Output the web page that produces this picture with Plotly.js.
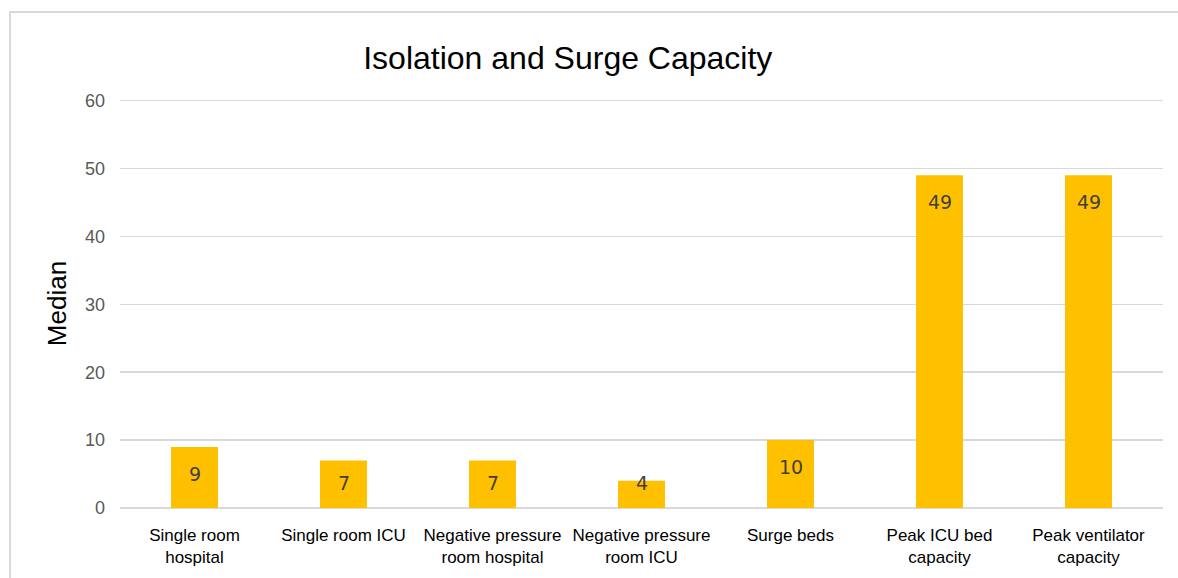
<!DOCTYPE html>
<html>
<head>
<meta charset="utf-8">
<script src="https://cdn.plot.ly/plotly-3.0.1.min.js"></script>
<style>
html,body{margin:0;padding:0;background:#fff;overflow:hidden;}
#frame{position:absolute;left:9px;top:11px;width:1200px;height:600px;border:2px solid #d9d9d9;box-sizing:border-box;}
#chart{position:absolute;left:0;top:0;width:1178px;height:578px;}
</style>
</head>
<body>
<div id="frame"></div>
<div id="chart"></div>
<script>
const categories = ["Single room<br>hospital", "Single room ICU", "Negative pressure<br>room hospital", "Negative pressure<br>room ICU", "Surge beds", "Peak ICU bed<br>capacity", "Peak ventilator<br>capacity"];
const medians = [9, 7, 7, 4, 10, 49, 49];
const yTicks = [0, 10, 20, 30, 40, 50, 60];

const plotTop = 99, plotBottom = 508, yMax = 60.25;
const pxPerUnit = (plotBottom - plotTop) / yMax;

const annotations = categories.map((c, i) => {
  const barPx = medians[i] * pxPerUnit;
  const shift = Math.min(27, barPx - 25);
  return {
    x: c, y: medians[i], xref: 'x', yref: 'y',
    text: String(medians[i]), showarrow: false,
    yanchor: 'middle', yshift: -shift,
    font: {family: 'DejaVu Sans, Noto Sans, sans-serif', size: 19, color: '#404040'}
  };
});

const trace = {
  type: 'bar', x: categories, y: medians,
  marker: {color: '#FFC000'}, width: 0.315,
  hoverinfo: 'none'
};

const layout = {
  width: 1178, height: 578,
  margin: {l: 120, r: 15, t: 99, b: 70},
  paper_bgcolor: 'rgba(0,0,0,0)', plot_bgcolor: 'rgba(0,0,0,0)',
  title: {text: 'Isolation and Surge Capacity', x: 0.482, xanchor: 'center', y: 0.9, yanchor: 'middle', yref: 'container',
          font: {family: 'Liberation Sans, Arial, sans-serif', size: 32, color: '#000'}},
  showlegend: false,
  xaxis: {
    type: 'category', showgrid: false, showline: false, zeroline: false, ticks: '',
    tickfont: {family: 'Liberation Sans Narrow, Arial Narrow, Liberation Sans, sans-serif', size: 17, color: '#000'},
    tickangle: 0, automargin: false, ticklabelstandoff: 15
  },
  yaxis: {
    range: [0, yMax], tickvals: yTicks, ticktext: yTicks.map(String),
    showgrid: true, gridcolor: '#d9d9d9', gridwidth: 1.5,
    zeroline: true, zerolinecolor: '#d9d9d9', zerolinewidth: 2,
    showline: false, ticks: '', ticklabelstandoff: 14,
    tickfont: {family: 'Liberation Sans, Arial, sans-serif', size: 18, color: '#595959'},
    title: {text: 'Median', standoff: 10, font: {family: 'Liberation Sans, Arial, sans-serif', size: 26, color: '#000'}},
    automargin: false
  },
  annotations: annotations
};

Plotly.newPlot('chart', [trace], layout, {displayModeBar: false, staticPlot: true});
</script>
</body>
</html>
